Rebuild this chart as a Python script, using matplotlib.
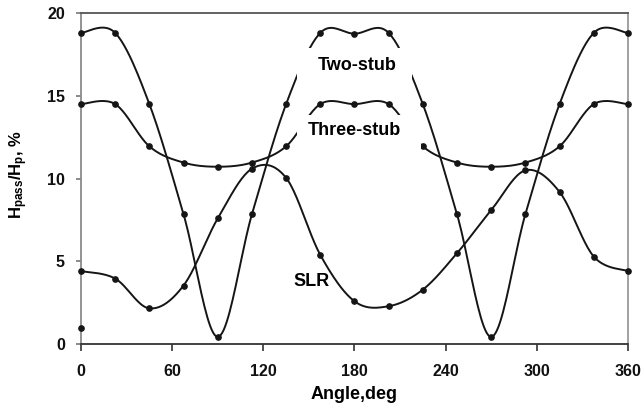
# Hpass/Hp vs angle for SLR, two-stub and three-stub
import numpy as np
import matplotlib
matplotlib.use('Agg')
import matplotlib.pyplot as plt
from matplotlib.patches import Rectangle

plt.rcParams['font.family'] = ['Liberation Sans', 'DejaVu Sans']
plt.rcParams['mathtext.fontset'] = 'custom'
plt.rcParams['mathtext.rm'] = 'Liberation Sans:bold'
plt.rcParams['mathtext.bf'] = 'Liberation Sans:bold'
plt.rcParams['mathtext.default'] = 'bf'

# angle, deg (every 22.5 deg)
angle = [0, 22.5, 45, 67.5, 90, 112.5, 135, 157.5, 180,
         202.5, 225, 247.5, 270, 292.5, 315, 337.5, 360]
two_stub = [18.8, 18.8, 14.5, 7.85, 0.45, 7.85, 14.5, 18.8, 18.75,
            18.8, 14.5, 7.85, 0.45, 7.85, 14.5, 18.8, 18.8]
three_stub = [14.5, 14.5, 11.95, 10.97, 10.72, 10.97, 11.95, 14.5, 14.5,
              14.5, 11.95, 10.97, 10.72, 10.97, 11.95, 14.5, 14.5]
slr = [4.42, 3.97, 2.17, 3.55, 7.6, 10.6, 10.05, 5.4, 2.6,
       2.3, 3.3, 5.5, 8.1, 10.5, 9.2, 5.3, 4.42]
# lone point at 0 deg
extra_x = [0]
extra_y = [1.0]


def smooth(x, y, n=24):
    # excel style smoothed line (bezier through the points)
    p = np.column_stack([x, y]).astype(float)
    out = []
    for i in range(len(p) - 1):
        p0 = p[i - 1] if i > 0 else p[i]
        p1, p2 = p[i], p[i + 1]
        p3 = p[i + 2] if i + 2 < len(p) else p[i + 1]
        b1 = p1 + (p2 - p0) / 6.0
        b2 = p2 - (p3 - p1) / 6.0
        t = np.linspace(0, 1, n)[:, None]
        seg = ((1 - t) ** 3) * p1 + 3 * ((1 - t) ** 2) * t * b1 \
            + 3 * (1 - t) * t ** 2 * b2 + t ** 3 * p2
        out.append(seg if i == 0 else seg[1:])
    out = np.vstack(out)
    return out[:, 0], out[:, 1]


fig = plt.figure(figsize=(6.44, 4.13), dpi=100)
ax = fig.add_axes([0.1258, 0.1663, 0.8492, 0.8022])

lc = '#151515'
for ys in [two_stub, three_stub, slr]:
    sx, sy = smooth(angle, ys)
    ax.plot(sx, sy, color=lc, lw=1.4, zorder=2)
    ax.plot(angle, ys, 'o', color=lc, ms=3.8, zorder=3, clip_on=False)
ax.plot(extra_x, extra_y, 'o', color=lc, ms=3.8, zorder=3, clip_on=False)

# white boxes behind the curve labels (they hide the lines)
ax.add_patch(Rectangle((142.2, 15.6), 75.7, 2.27, facecolor='white',
                       edgecolor='none', zorder=4))
ax.add_patch(Rectangle((142.2, 11.7), 81.6, 2.13, facecolor='white',
                       edgecolor='none', zorder=4))
ax.text(181.5, 16.85, 'Two-stub', fontsize=13, fontweight='bold',
        ha='center', va='center', zorder=5)
ax.text(180, 12.92, 'Three-stub', fontsize=13, fontweight='bold',
        ha='center', va='center', zorder=5)
ax.text(152, 3.8, 'SLR', fontsize=13, fontweight='bold',
        ha='center', va='center', zorder=5)

ax.set_xlim(0, 360)
ax.set_ylim(0, 20)
ax.set_xticks([0, 60, 120, 180, 240, 300, 360])
ax.set_yticks([0, 5, 10, 15, 20])
ax.tick_params(axis='x', direction='out', length=5, width=1.2,
               labelsize=11.5, pad=9, colors='#333333', labelcolor='#111111')
ax.tick_params(axis='y', direction='out', length=3.6, width=1.2,
               labelsize=11.5, pad=8, colors='#777777', labelcolor='#111111')
for lab in ax.get_xticklabels() + ax.get_yticklabels():
    lab.set_fontweight('bold')

ax.spines['left'].set_color('#8a8a8a')
ax.spines['right'].set_color('#9a9a9a')
ax.spines['top'].set_color('#555555')
ax.spines['bottom'].set_color('#333333')
for s in ax.spines.values():
    s.set_linewidth(1.3)

ax.set_xlabel('Angle,deg', fontsize=13, fontweight='bold', labelpad=5)
ax.set_ylabel('H$_{pass}$/H$_{p}$, %', fontsize=12, fontweight='bold')
ax.yaxis.set_label_coords(-0.093, 0.514)

plt.savefig('out.png', dpi=100)
